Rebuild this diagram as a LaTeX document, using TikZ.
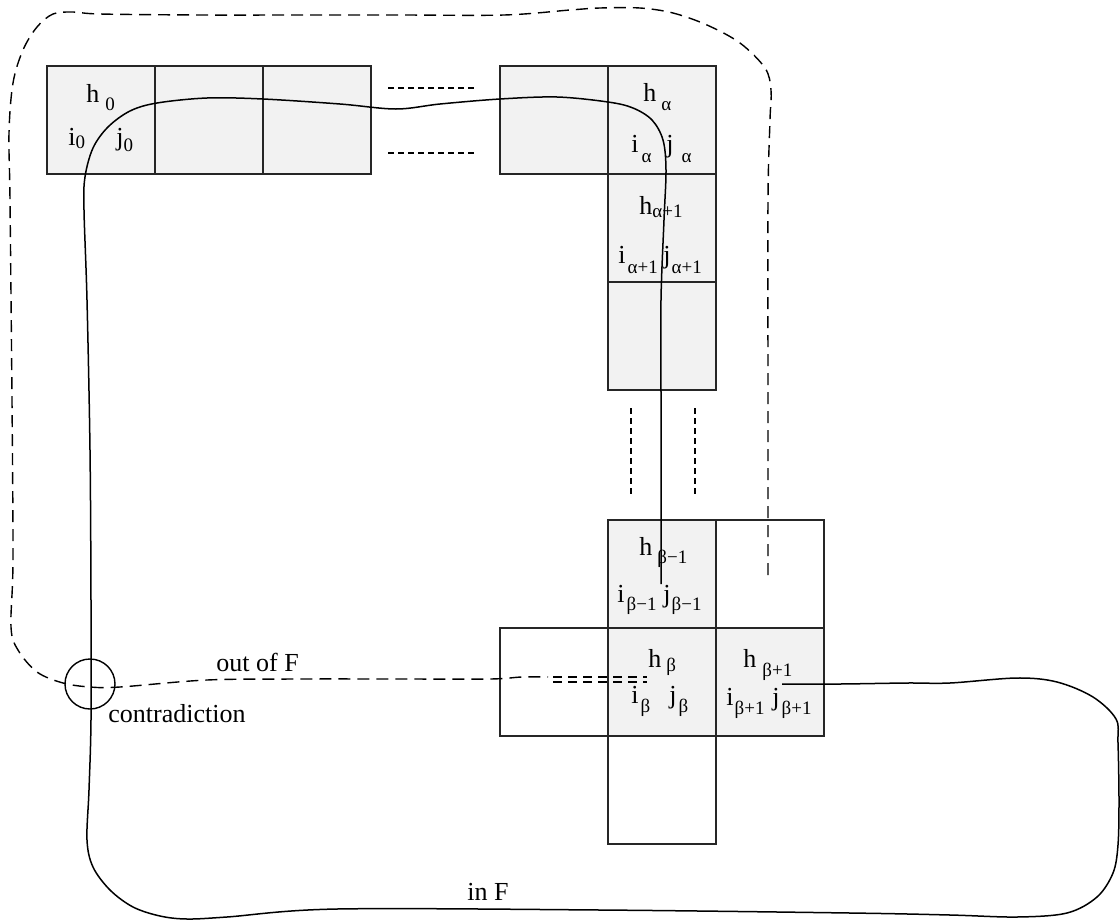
\documentclass[tikz,border=0pt]{standalone}
\usepackage{fontspec}
\setmainfont{Liberation Serif}
\definecolor{cellgray}{HTML}{F2F2F2}
\newcommand\mainf{\fontsize{13}{15}\selectfont}
\newcommand\subf{\fontsize{9.5}{11}\selectfont}
\newcommand\slab[6]{\node[lab] (#1) at (#2) {#3\hspace{#4}\raisebox{-#5}{\subf #6}};}
\begin{document}
\begin{tikzpicture}[x=0.5pt,y=-0.5pt,
  cell/.style={draw=black!85, line width=0.6pt, minimum width=54pt, minimum height=54pt, inner sep=0pt, fill=cellgray},
  blank/.style={cell, fill=white},
  lab/.style={anchor=base west, inner sep=0pt, font=\mainf},
  curve/.style={line width=0.75pt},
  dcurve/.style={line width=0.7pt, dash pattern=on 6pt off 3.5pt},
  dshort/.style={line width=0.7pt, dash pattern=on 4.5pt off 3pt},
  fine/.style={line width=0.6pt, dash pattern=on 3pt off 2pt}]
\useasboundingbox (0,0) rectangle (1120,922);
% cells
\node[cell] (a0) at (101,120) {};
\node[cell] (a1) at (209,120) {};
\node[cell] (a2) at (317,120) {};
\node[cell] (b0) at (554,120) {};
\node[cell] (ba) at (662,120) {};
\node[cell] (ba1) at (662,228) {};
\node[cell] (ba2) at (662,336) {};
\node[cell] (bb1) at (662,574) {};
\node[blank] (bw) at (770,574) {};
\node[blank] (bl) at (554,682) {};
\node[cell] (bb) at (662,682) {};
\node[cell] (bb2) at (770,682) {};
\node[blank] (bd) at (662,790) {};
% fine dashes between cells
\draw[fine] (388,88) -- (475,88);
\draw[fine] (388,153) -- (475,153);
\draw[fine] (631,408) -- (631,495);
\draw[fine] (695,408) -- (695,495);
% solid path
\draw[curve] plot[smooth, tension=0.55] coordinates {
 (661,584) (661,400) (661,300) (664,220) (666,170) (663,140) (652,120) (633,108) (608,102)
 (557,97) (500,99) (440,104) (396,109) (340,104) (263,99) (207,98) (157,103) (130,111)
 (108,127) (93,148) (85,177) (84,210) (87,300) (90,450) (91,600) (91,720) (89,790) (87,840)
 (93,867) (110,890) (133,907) (160,916) (187,919) (227,917) (337,909) (600,910) (850,913)
 (950,915) (1017,917) (1067,913) (1097,897) (1113,873) (1118,845) (1119,800) (1118,743)
 (1116,719) (1093,697) (1057,682) (1017,678) (950,683) (907,683) (840,684) (782,684)};
% dashed path
\draw[dcurve] plot[smooth, tension=0.55] coordinates {
 (768,575) (768,400) (768,200) (770,120) (771,90) (765,68) (740,43) (707,25) (673,13)
 (640,8) (600,8) (570,10) (504,15) (400,15) (300,15) (200,15) (100,14) (73,12) (53,14)
 (37,27) (23,50) (13,83) (9,133) (10,200) (12,400) (13,560) (11,627) (18,650) (37,672)
 (63,683) (90,687) (120,687) (207,680) (300,679) (400,679) (490,679) (522,677) (548,677)};
\draw[dshort] (553,677) -- (647,677);
\draw[dshort] (553,682) -- (647,682);
% contradiction circle
\node[draw, circle, line width=0.7pt, minimum size=25pt, inner sep=0pt] (contra) at (90,684) {};
% labels
\slab{h0}{86,102}{h}{3pt}{4pt}{0}
\slab{i0}{68,145}{i}{0pt}{1.5pt}{0}
\slab{j0}{116,145}{j}{0pt}{3pt}{0}
\slab{ha}{643,101}{h}{2.5pt}{4.5pt}{α}
\slab{ia}{631,152}{i}{1.5pt}{5pt}{α}
\slab{ja}{666,152}{j}{4pt}{5pt}{α}
\slab{ha1}{639,214}{h}{0pt}{1.5pt}{α+1}
\slab{ia1}{618,263}{i}{1pt}{5pt}{α+1}
\slab{ja1}{663,263}{j}{0.5pt}{5pt}{α+1}
\slab{hb1}{639,555}{h}{2.5pt}{4pt}{β−1}
\slab{ib1}{617,602}{i}{1pt}{4pt}{β−1}
\slab{jb1}{663,602}{j}{0.5pt}{4pt}{β−1}
\slab{hb}{648,667}{h}{2.5pt}{2pt}{β}
\slab{ib}{631,703}{i}{1pt}{4.5pt}{β}
\slab{jb}{669,703}{j}{1pt}{4.5pt}{β}
\slab{hb2}{743,667}{h}{3pt}{4.5pt}{β+1}
\slab{ib2}{726,705}{i}{0.5pt}{4.5pt}{β+1}
\slab{jb2}{772,705}{j}{1pt}{4.5pt}{β+1}
\node[lab] (outF) at (216,671) {out of F};
\node[lab] (contxt) at (108,722) {contradiction};
\node[lab] (inF) at (467,900) {in F};
\end{tikzpicture}
\end{document}
